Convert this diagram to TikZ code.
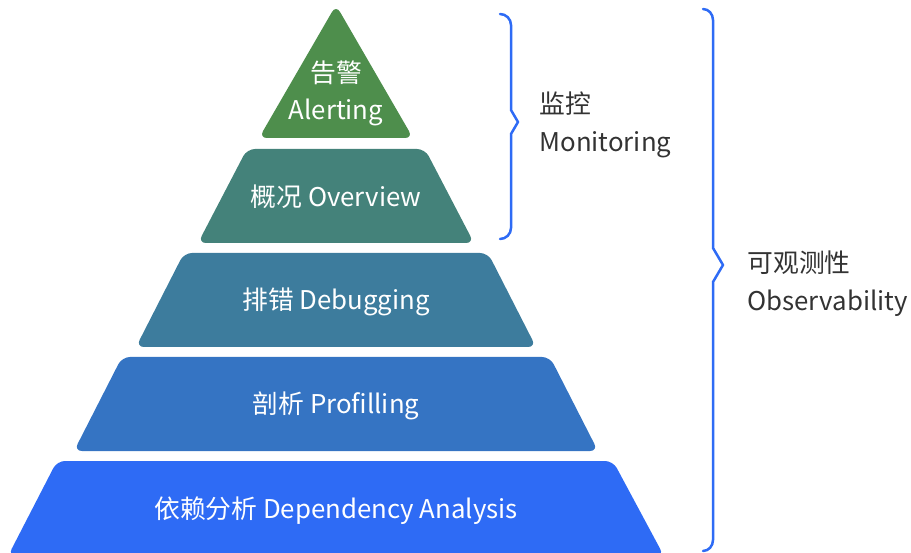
\documentclass[tikz,border=0pt]{standalone}
\usepackage{fontspec}
\setmainfont{Noto Sans CJK SC}
\definecolor{AlertingFill}{HTML}{4E8E4C}
\definecolor{OverviewFill}{HTML}{44827A}
\definecolor{DebuggingFill}{HTML}{3D7C9D}
\definecolor{ProfilingFill}{HTML}{3574C3}
\definecolor{DependencyFill}{HTML}{2E6BF5}
\colorlet{BraceLine}{DependencyFill}
\colorlet{SideText}{black!80}
\tikzset{
  layer/.style = {rounded corners = 8pt},
  layer text/.style = {text = white, align = center, font = \fontsize{25.8}{37}\selectfont},
  side text/.style = {text = SideText, align = left, anchor = west, font = \fontsize{25.8}{38}\selectfont},
  brace line/.style = {draw = BraceLine, line width = 2.5pt, line join = round, line cap = round},
}

\begin{document}
\begin{tikzpicture}[x = 1pt, y = 1pt]

\useasboundingbox (0, 0) rectangle (911, -553);

\draw[layer, fill = AlertingFill, draw = none]
    (336, -5) -- (413, -138) -- (259, -138) -- cycle;
\draw[layer, fill = OverviewFill, draw = none]
    (247, -149) -- (425, -149) -- (474, -243) -- (198, -243) -- cycle;
\draw[layer, fill = DebuggingFill, draw = none]
    (184, -253) -- (488, -253) -- (536, -347) -- (136, -347) -- cycle;
\draw[layer, fill = ProfilingFill, draw = none]
    (122, -357) -- (550, -357) -- (598, -451) -- (74, -451) -- cycle;
\draw[layer, fill = DependencyFill, draw = none]
    (57, -461) -- (613, -461) -- (664, -556) -- (8, -556) -- cycle;

\node[layer text] (alerting) at (336, -93) {告警\\Alerting};
\node[layer text] (overview) at (336, -197) {概况 Overview};
\node[layer text] (debugging) at (336, -302) {排错 Debugging};
\node[layer text] (profiling) at (336, -406) {剖析 Profilling};
\node[layer text] (dependency) at (336, -511) {依赖分析 Dependency Analysis};

\coordinate (MonTop) at (500, -14);
\coordinate (MonBottom) at (500, -239);
\draw[brace line] (MonTop) to[out = 0, in = 90] (511, -25)
    -- (511, -110) -- (518, -122) -- (511, -134)
    -- (511, -228) to[out = -90, in = 0] (MonBottom);
\node[side text] (monitoring) at (536, -125) {监控\\Monitoring};

\coordinate (ObsTop) at (703, -9);
\coordinate (ObsBottom) at (703, -551);
\draw[brace line] (ObsTop) to[out = 0, in = 90] (713, -20)
    -- (713, -248) -- (723, -265) -- (713, -282)
    -- (713, -540) to[out = -90, in = 0] (ObsBottom);
\node[side text] (observability) at (744, -284) {可观测性\\Observability};

\end{tikzpicture}
\end{document}
